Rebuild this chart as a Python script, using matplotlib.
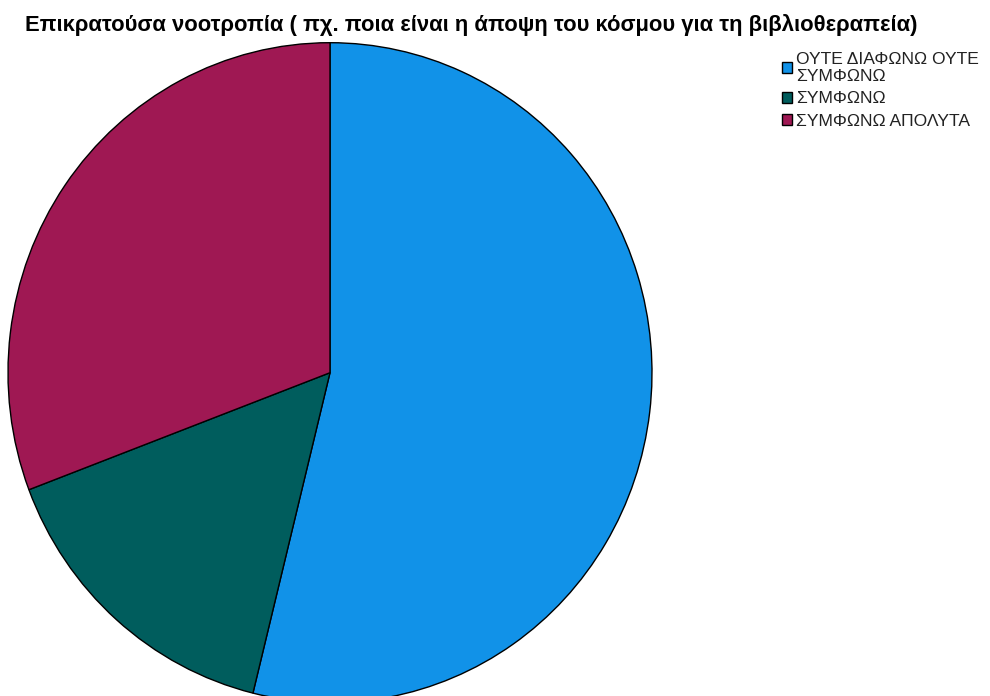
import matplotlib
matplotlib.use("Agg")
import matplotlib.pyplot as plt

plt.rcParams['font.family'] = ['Liberation Sans', 'DejaVu Sans']

title = "Επικρατούσα νοοτροπία ( πχ. ποια είναι η άποψη του κόσμου για τη βιβλιοθεραπεία)"
categories = ["ΟΥΤΕ ΔΙΑΦΩΝΩ ΟΥΤΕ\nΣΥΜΦΩΝΩ", "ΣΥΜΦΩΝΩ", "ΣΥΜΦΩΝΩ ΑΠΟΛΥΤΑ"]
counts = [14, 4, 8]
colors = ["#1192e8", "#005d5d", "#9f1853"]

W, H = 990, 696
fig = plt.figure(figsize=(W / 100, H / 100), dpi=100)

cx, cy = 330, 372.7
rx, ry = 322, 330
ax = fig.add_axes([(cx - rx) / W, (H - cy - ry) / H, 2 * rx / W, 2 * ry / H])
wedges, _ = ax.pie(counts, colors=colors, startangle=90, counterclock=False,
                   radius=1, wedgeprops=dict(edgecolor="black", linewidth=1.0))
ax.set_aspect('auto')
ax.set_xlim(-1, 1)
ax.set_ylim(-1, 1)
ax.axis('off')

fig.text(25 / W, 1 - 31 / H, title, fontsize=15.8, fontweight='bold',
         ha='left', va='baseline', color='black')

leg = fig.legend(wedges, categories, loc='upper left',
                 bbox_to_anchor=(781.5 / W, 1 - 51.5 / H), frameon=False,
                 fontsize=12.6, handlelength=0.6, handleheight=0.6,
                 handletextpad=0.25, labelspacing=0.42, borderpad=0,
                 borderaxespad=0)
for t in leg.get_texts():
    t.set_linespacing(1.22)
    t.set_color('#222222')

fig.savefig("out.png", dpi=100)
